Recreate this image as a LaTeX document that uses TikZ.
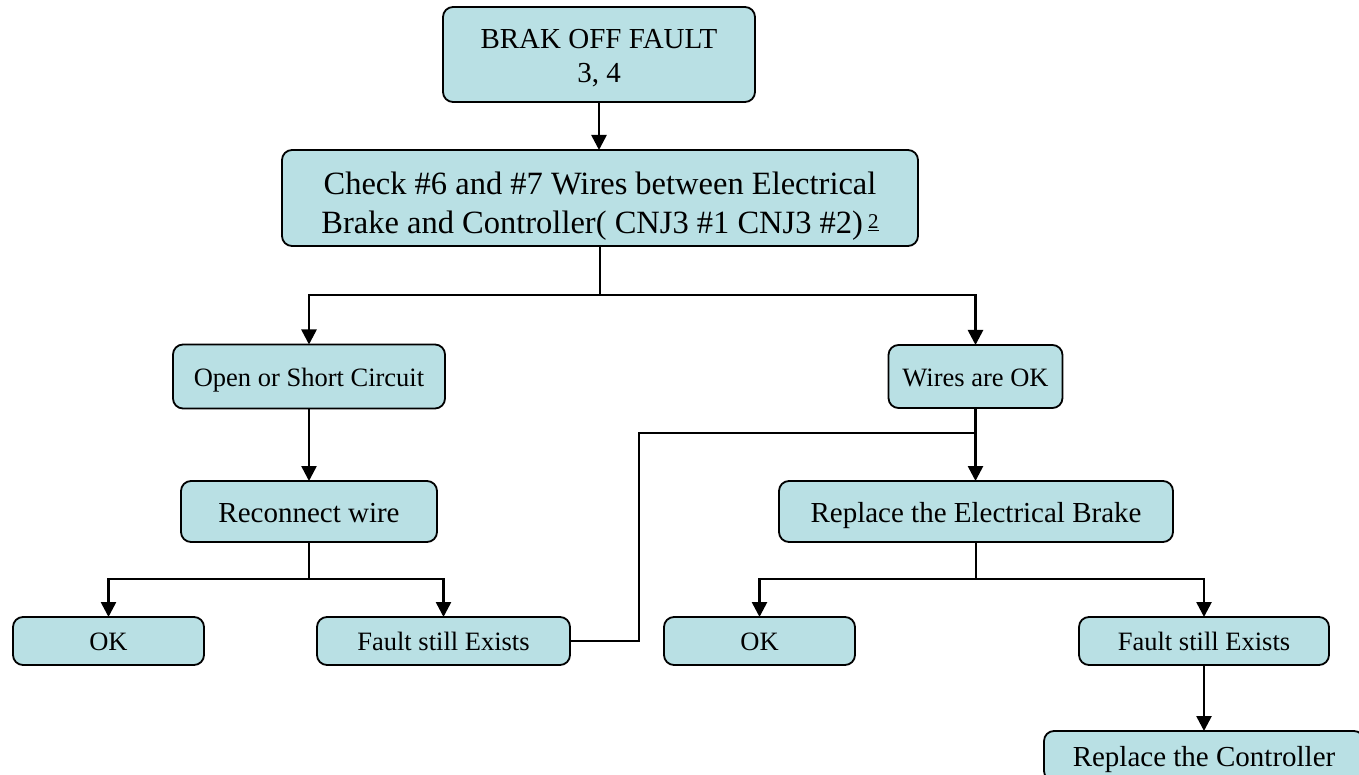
\documentclass[tikz,border=0pt]{standalone}
\usepackage{fontspec}
\setmainfont{Liberation Serif}
\usetikzlibrary{arrows.meta}

\definecolor{boxfill}{RGB}{185,224,228}

\tikzset{
  stepbox/.style={draw=black, line width=1.8pt, fill=boxfill, rounded corners=10pt,
    inner sep=0pt, outer sep=0pt, align=center, text=black},
  bigtext/.style={font=\fontsize{29}{34}\selectfont},
  hugetext/.style={font=\fontsize{32.5}{39}\selectfont},
  smalltext/.style={font=\fontsize{26.5}{30}\selectfont},
  bigline/.style={bigtext, text height=21pt, text depth=0pt},
  smallline/.style={smalltext, text height=19.5pt, text depth=0pt},
  link/.style={draw=black, line width=2.6pt},
  flow/.style={link, -{Triangle[length=15pt,width=15pt]}},
}

\begin{document}
\begin{tikzpicture}[x=1pt, y=-1pt]
  \useasboundingbox (0,0) rectangle (1359,775);
  \clip (0,0) rectangle (1359,775);

  % boxes
  \node[stepbox, bigtext, minimum width=312pt, minimum height=95pt] (top) at (599,54.5)
    {\rule{0pt}{27pt}BRAK OFF FAULT\\3, 4};
  \node[stepbox, hugetext, minimum width=636pt, minimum height=96pt] (check) at (600,198)
    {\rule{0pt}{39pt}Check \#6 and \#7 Wires between Electrical\\Brake and Controller( CNJ3 \#1 CNJ3 \#2)\hspace{5pt}\raisebox{5pt}{\fontsize{21}{21}\selectfont\underline{2}}};
  \node[stepbox, smallline, minimum width=272pt, minimum height=64pt] (open) at (309,376.5)
    {Open or Short Circuit};
  \node[stepbox, smallline, minimum width=174pt, minimum height=63pt] (wok) at (975.5,376.5)
    {Wires are OK};
  \node[stepbox, bigline, minimum width=256pt, minimum height=61pt] (recon) at (309,511.5)
    {Reconnect wire};
  \node[stepbox, bigline, minimum width=394pt, minimum height=61pt] (rep) at (976,511.5)
    {Replace the Electrical Brake};
  \node[stepbox, smallline, minimum width=191pt, minimum height=48pt] (okA) at (108.5,641)
    {OK};
  \node[stepbox, smallline, minimum width=253pt, minimum height=48pt] (fA) at (443.5,641)
    {Fault still Exists};
  \node[stepbox, smallline, minimum width=191pt, minimum height=48pt] (okB) at (759.5,641)
    {OK};
  \node[stepbox, smallline, minimum width=250pt, minimum height=48pt] (fB) at (1204,641)
    {Fault still Exists};
  \node[stepbox, bigline, minimum width=320pt, minimum height=50pt] (ctrl) at (1204,756)
    {Replace the Controller};

  % junction points
  \coordinate (j1) at (600,295);
  \coordinate (j2) at (309,579);
  \coordinate (j3) at (976,579);
  \coordinate (lp) at (639,433);

  % connectors
  \draw[flow] (top.south) -- (top.south |- check.north);
  \draw[flow] (check.south) -- (j1) -| (open.north);
  \draw[flow] (j1) -| (wok.north);
  \draw[flow] (open.south) -- (recon.north);
  \draw[flow] (wok.south) -- (wok.south |- rep.north);
  \draw[link] (wok.south |- lp) -- (lp) |- (fA.east);
  \draw[flow] (recon.south) -- (j2) -| (okA.north);
  \draw[flow] (j2) -| (fA.north);
  \draw[flow] (rep.south) -- (j3) -| (okB.north);
  \draw[flow] (j3) -| (fB.north);
  \draw[flow] (fB.south) -- (ctrl.north);
\end{tikzpicture}
\end{document}
